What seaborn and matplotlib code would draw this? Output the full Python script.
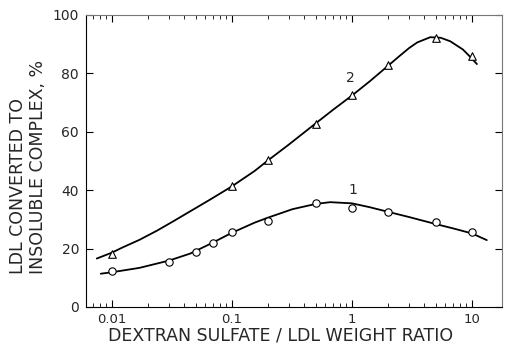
import matplotlib
matplotlib.use("Agg")
import matplotlib.pyplot as plt
import matplotlib.ticker as mticker
import seaborn as sns
import pandas as pd

# Smooth curves
curve2_x = [0.0075, 0.01, 0.0123, 0.017, 0.0237, 0.033, 0.0447, 0.066, 0.1, 0.155, 0.2, 0.3,
            0.5, 0.7, 1.0, 1.4, 2.0, 2.5, 3.0, 3.5, 4.5, 5.5, 6.6, 8.4, 9.5, 11.0]
curve2_y = [16.6, 18.6, 20.4, 23.0, 26.1, 29.5, 32.7, 36.8, 41.3, 46.6, 50.2, 55.7,
            62.9, 67.6, 72.4, 77.2, 82.6, 86.0, 88.7, 90.6, 92.4, 92.2, 91.0, 88.2, 86.0, 83.2]
curve1_x = [0.0081, 0.01, 0.017, 0.03, 0.045, 0.066, 0.1, 0.155, 0.2, 0.32, 0.5, 0.66,
            1.0, 1.4, 2.0, 3.0, 5.0, 7.0, 10.0, 13.3]
curve1_y = [11.4, 11.9, 13.4, 15.9, 18.3, 21.6, 25.4, 28.9, 30.6, 33.5, 35.3, 35.9,
            35.5, 34.2, 32.6, 30.8, 28.4, 26.9, 25.2, 22.9]

# Measured points
p2_x = [0.01, 0.1, 0.2, 0.5, 1, 2, 5, 10]
p2_y = [18.1, 41.4, 50.5, 62.8, 72.5, 82.8, 92.0, 85.8]
p1_x = [0.01, 0.03, 0.05, 0.07, 0.1, 0.2, 0.5, 1, 2, 5, 10]
p1_y = [12.3, 15.4, 19.0, 21.9, 25.6, 29.4, 35.6, 33.8, 32.5, 29.0, 25.6]

x_ticks = [0.01, 0.1, 1, 10]
x_ticklabels = ["0.01", "0.1", "1", "10"]
y_ticks = [0, 20, 40, 60, 80, 100]

sns.set_style("ticks")
plt.rcParams["font.family"] = ["DejaVu Sans"]

fig = plt.figure(figsize=(5.05, 3.47), dpi=100)
ax = fig.add_axes([86 / 505, 1 - 307 / 347, (502 - 86) / 505, (307 - 15) / 347])

c2 = pd.DataFrame({"x": curve2_x, "y": curve2_y})
c1 = pd.DataFrame({"x": curve1_x, "y": curve1_y})
d2 = pd.DataFrame({"x": p2_x, "y": p2_y})
d1 = pd.DataFrame({"x": p1_x, "y": p1_y})

sns.lineplot(data=c2, x="x", y="y", ax=ax, color="black", lw=1.3, sort=False)
sns.lineplot(data=c1, x="x", y="y", ax=ax, color="black", lw=1.3, sort=False)
sns.scatterplot(data=d2, x="x", y="y", ax=ax, marker="^", s=30, facecolor="white",
                edgecolor="black", linewidth=0.8, zorder=5)
sns.scatterplot(data=d1, x="x", y="y", ax=ax, marker="o", s=28, facecolor="white",
                edgecolor="black", linewidth=0.8, zorder=5)

ax.set_xscale("log")
ax.set_xlim(0.0061, 17.8)
ax.set_ylim(0, 100)

ax.set_xticks(x_ticks)
ax.set_xticklabels(x_ticklabels)
ax.xaxis.set_minor_locator(mticker.LogLocator(base=10, subs=range(2, 10)))
ax.xaxis.set_minor_formatter(mticker.NullFormatter())
ax.set_yticks(y_ticks)

ax.tick_params(axis="both", which="major", direction="in", length=5, width=0.8,
               top=True, right=True, color="black")
ax.tick_params(axis="y", which="major", labelsize=10, pad=5)
ax.tick_params(axis="x", which="major", labelsize=9.5, pad=4)
ax.tick_params(axis="both", which="minor", direction="in", length=3, width=0.7,
               top=True, right=True)

for side, sp in ax.spines.items():
    sp.set_visible(True)
    sp.set_linewidth(0.8)
    sp.set_color("black")
ax.spines["top"].set_color("#777777")
ax.spines["right"].set_color("#777777")

ax.set_xlabel("DEXTRAN SULFATE / LDL WEIGHT RATIO", fontsize=12.5)
ax.xaxis.set_label_coords(0.468, -0.066, transform=ax.transAxes)
ax.xaxis.label.set_va("top")
ax.set_ylabel("LDL CONVERTED TO\nINSOLUBLE COMPLEX, %", fontsize=12.5,
              multialignment="left", linespacing=1.2)
ax.yaxis.set_label_coords(-0.093, 0.48, transform=ax.transAxes)

ax.text(0.97, 76, "2", fontsize=10, ha="center", va="bottom")
ax.text(1.02, 37.5, "1", fontsize=10, ha="center", va="bottom")

fig.savefig("out.png", dpi=100)
